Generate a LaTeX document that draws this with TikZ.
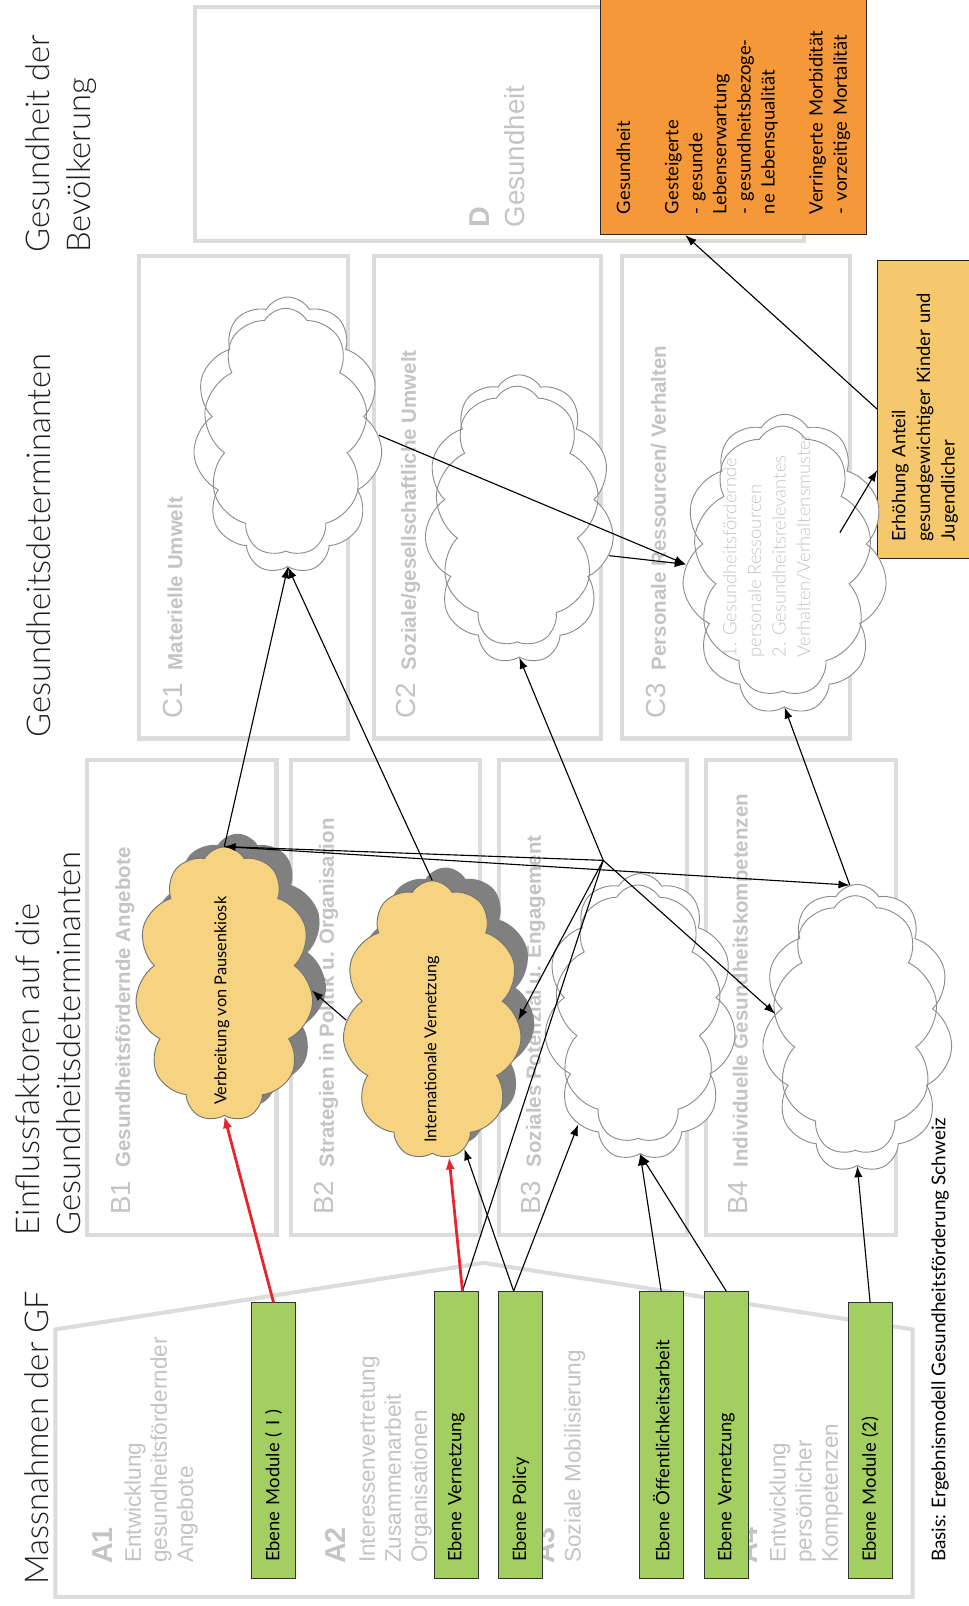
\documentclass[tikz,border=0pt]{standalone}
\usepackage{fontspec}
\setmainfont{Lato}
\newfontfamily\arialfont{Liberation Sans}
\IfFontExistsTF{Lato Light}{\newfontfamily\thinfont{Lato Light}}{\newfontfamily\thinfont{Lato}}
\usetikzlibrary{shapes.symbols,arrows.meta,calc}

\definecolor{frame}{HTML}{DCDCDC}
\definecolor{labelgray}{HTML}{C4C4C4}
\definecolor{cloudline}{HTML}{8C8C8C}
\definecolor{puffyellow}{HTML}{F5D380}
\definecolor{shadowgray}{HTML}{808080}
\definecolor{measuregreen}{HTML}{A3CF62}
\definecolor{outcomeorange}{HTML}{F4983A}
\definecolor{targetyellow}{HTML}{F6C86E}
\definecolor{keyred}{HTML}{E8232B}
\definecolor{inktext}{HTML}{1E1E1E}

\begin{document}
\begin{tikzpicture}[x=1pt, y=-1pt,
  panel/.style={draw=frame, line width=4pt},
  % rotated text; for several lines the anchor sits on the baseline of the last line
  vtext/.style={rotate=90, inner sep=0pt, anchor=base west, align=left},
  heading/.style={vtext, text=inktext, font=\thinfont\fontsize{32pt}{40pt}\selectfont},
  code/.style={vtext, text=labelgray, font=\arialfont\fontsize{27pt}{32pt}\selectfont},
  codebold/.style={vtext, text=labelgray, font=\arialfont\bfseries\fontsize{28pt}{32pt}\selectfont},
  codetext/.style={vtext, text=labelgray, font=\arialfont\fontsize{22pt}{25.5pt}\selectfont},
  puff/.style={cloud, cloud puffs=#1, cloud puff arc=120, cloud ignores aspect,
    inner sep=0pt, draw=cloudline, line width=0.9pt},
  whitecloud/.style={puff=11, fill=white},
  cloudtrace/.style={puff=9, shape border rotate=17},
  yellowcloud/.style={puff=11, fill=puffyellow, draw=black!55},
  shadowcloud/.style={puff=11, fill=shadowgray, draw=none},
  measure/.style={rotate=90, draw=black!80, fill=measuregreen, line width=1.1pt,
    font=\fontsize{18pt}{22pt}\selectfont, align=left, text width=#1,
    inner xsep=16pt, inner ysep=0pt, minimum height=43pt},
  link/.style={draw=black, line width=1.1pt, -{Latex[length=11pt,width=8pt]}},
  plainlink/.style={draw=black, line width=1.1pt},
  redlink/.style={draw=keyred, line width=2.7pt, -{Latex[length=12pt,width=9pt]}}
]
\useasboundingbox (0,0) rectangle (946,1568);
\fill[white] (0,0) rectangle (946,1568);

% ---------- column headings ----------
\node[heading] (hD) at (88,247) {Gesundheit der\\Bevölkerung};
\node[heading] (hC) at (49,720) {Gesundheitsdeterminanten};
\node[heading] (hB) at (79,1206) {Einflussfaktoren auf die\\Gesundheitsdeterminanten};
\node[heading] (hA) at (47,1547) {Massnahmen der GF};

% ---------- frames ----------
\draw[panel] (190,7) rectangle (785,235);
\draw[panel] (136,250) rectangle (340,721);
\draw[panel] (365,250) rectangle (587,721);
\draw[panel] (607,250) rectangle (830,721);
\draw[panel] (85,742) rectangle (270,1206);
\draw[panel] (284,742) rectangle (469,1206);
\draw[panel] (487,742) rectangle (671,1206);
\draw[panel] (689,742) rectangle (875,1206);
\draw[panel, line join=miter] (54,1559) -- (54,1298) -- (472,1233) -- (891,1298) -- (891,1559) -- cycle;

% ---------- frame captions ----------
\node[codebold] (lD) at (478,222) {D};
\node[code] (lDt) at (512,222) {Gesundheit};

\node[code] (lC1) at (178,702) {C1\hspace{13pt}{\bfseries\fontsize{20pt}{24pt}\selectfont Materielle Umwelt}};
\node[code] (lC2) at (406,702) {C2\hspace{13pt}{\bfseries\fontsize{20pt}{24pt}\selectfont Soziale/gesellschaftliche Umwelt}};
\node[code] (lC3) at (650,702) {C3\hspace{13pt}{\bfseries\fontsize{20pt}{24pt}\selectfont Personale Ressourcen/ Verhalten}};

\node[code] (lB1) at (127,1186) {B1\hspace{13pt}{\bfseries\fontsize{20pt}{24pt}\selectfont Gesundheitsfördernde Angebote}};
\node[code] (lB2) at (326,1186) {B2\hspace{13pt}{\bfseries\fontsize{20pt}{24pt}\selectfont Strategien in Politik u. Organisation}};
\node[code] (lB3) at (528,1186) {B3\hspace{13pt}{\bfseries\fontsize{20pt}{24pt}\selectfont Soziales Potenzial u. Engagement}};
\node[code] (lB4) at (730,1186) {B4\hspace{13pt}{\bfseries\fontsize{20pt}{24pt}\selectfont Individuelle Gesundheitskompetenzen}};

\node[codebold] (lA1) at (110,1527) {A1};
\node[codetext] (tA1) at (188.5,1526) {Entwicklung\\gesundheitsfördernder\\Angebote};
\node[codebold] (lA2) at (337,1527) {A2};
\node[codetext] (tA2) at (417,1526) {Interessenvertretung\\Zusammenarbeit\\Organisationen};
\node[codebold] (lA3) at (541,1527) {A3};
\node[codetext] (tA3) at (567,1526) {Soziale Mobilisierung};
\node[codebold] (lA4) at (740,1527) {A4};
\node[codetext] (tA4) at (818,1526) {Entwicklung\\persönlicher\\Kompetenzen};

% ---------- outcome boxes ----------
\node[rotate=90, draw=black!85, fill=outcomeorange, line width=1.1pt,
      minimum width=232pt, minimum height=260pt, text width=192pt, inner xsep=20pt,
      align=left, font=\fontsize{18pt}{23.5pt}\selectfont] (health) at (716,113)
  {Gesundheit\\\mbox{}\\Gesteigerte\\- gesunde\\Lebenserwartung\\- gesundheitsbezoge-\\ne Lebensqualität\\\mbox{}\\Verringerte Morbidität\\- vorzeitige Mortalität};
\node[rotate=90, draw=black!85, fill=targetyellow, line width=1.1pt,
      minimum width=291pt, minimum height=92pt, text width=259pt, inner xsep=16pt,
      align=left, font=\fontsize{18pt}{24pt}\selectfont] (target) at (903,399.5)
  {Erhöhung Anteil\\gesundgewichtiger Kinder und\\Jugendlicher};

% ---------- determinant clouds ----------
\node[whitecloud, minimum width=185pt, minimum height=270pt] (c1) at (281,425) {};
\node[cloudtrace, minimum width=160pt, minimum height=242pt] (c1t) at ([shift={(-2,-3)}]c1.center) {};
\node[whitecloud, minimum width=185pt, minimum height=282pt] (c2) at (507,507) {};
\node[cloudtrace, minimum width=160pt, minimum height=254pt] (c2t) at ([shift={(-2,-3)}]c2.center) {};
\node[whitecloud, minimum width=200pt, minimum height=293pt] (c3) at (766,551) {};
\node[cloudtrace, minimum width=174pt, minimum height=264pt] (c3t) at ([shift={(-2,-3)}]c3.center) {};
\node[vtext, text=labelgray, font=\thinfont\fontsize{18pt}{24pt}\selectfont] (c3txt) at (791,642)
  {1. Gesundheitsfördernde\\personale Ressourcen\\2. Gesundheitsrelevantes\\Verhalten/Verhaltensmuster};

% ---------- influence clouds ----------
\node[shadowcloud, minimum width=174pt, minimum height=268pt] (b1s) at (232,948) {};
\node[yellowcloud, minimum width=174pt, minimum height=268pt] (b1) at (219,961) {};
\node[vtext, text=black, font=\fontsize{16pt}{20pt}\selectfont] (b1txt) at (221,1079) {Verbreitung von Pausenkiosk};
\node[shadowcloud, minimum width=175pt, minimum height=272pt] (b2s) at (435,983) {};
\node[yellowcloud, minimum width=175pt, minimum height=272pt] (b2) at (422,996) {};
\node[vtext, text=black, font=\fontsize{16pt}{20pt}\selectfont] (b2txt) at (426,1116) {Internationale Vernetzung};
\node[whitecloud, minimum width=187pt, minimum height=280pt] (b3) at (625,993) {};
\node[cloudtrace, minimum width=162pt, minimum height=252pt] (b3t) at ([shift={(-2,-3)}]b3.center) {};
\node[whitecloud, minimum width=186pt, minimum height=281pt] (b4) at (837,1004) {};
\node[cloudtrace, minimum width=161pt, minimum height=253pt] (b4t) at ([shift={(-2,-3)}]b4.center) {};

% ---------- measures ----------
\node[measure=237pt] (gm1) at (267,1406.5) {Ebene Module ( I )};
\node[measure=248pt] (gv1) at (445.5,1401) {Ebene Vernetzung};
\node[measure=248pt] (gp)  at (508.5,1401) {Ebene Policy};
\node[measure=248pt] (go)  at (645.5,1401) {Ebene Öffentlichkeitsarbeit};
\node[measure=248pt] (gv2) at (709,1401) {Ebene Vernetzung};
\node[measure=237pt] (gm2) at (849.5,1406.5) {Ebene Module (2)};

\node[vtext, text=black, font=\fontsize{18.5pt}{22pt}\selectfont] (src) at (923,1525)
  {Basis: Ergebnismodell Gesundheitsförderung Schweiz};

% ---------- connectors ----------
\coordinate (hub) at (589,840);
\draw[plainlink] ([xshift=6pt]gv1.east) -- (hub);
\draw[link] (hub) -- (b1.north);
\draw[link] (hub) -- (c2.south);
\draw[link] (hub) -- (b4.170);
\draw[link] (hub) -- (b2.east);
\draw[link] (b1.north) -- (b4.93);
\draw[link] (b4.93) -- (c3.south);
\draw[link] (b2.west) -- (b1.-4);
\draw[link] (b1.north) -- (c1.south);
\draw[link] (b2.north) -- (c1.south);
\draw[link] (c1.east) -- (c3.west);
\draw[link] (c2.-22) -- (c3.west);
\draw[link] ([shift={(54,-31)}]c3.center) -- ([yshift=-59.5pt]target.north);
\draw[link] (target.north) -- ([xshift=-47pt]health.west);

\draw[redlink] (gm1.east) -- (b1.south);
\draw[redlink] ([xshift=6pt]gv1.east) -- (b2.277);
\draw[link] ([xshift=-7pt]gp.east) -- (b2.284);
\draw[link] ([xshift=-7pt]gp.east) -- (b3.240);
\draw[link] (go.east) -- (b3.south);
\draw[link] (gv2.east) -- (b3.south);
\draw[link] (gm2.east) -- (b4.south);
\end{tikzpicture}
\end{document}
